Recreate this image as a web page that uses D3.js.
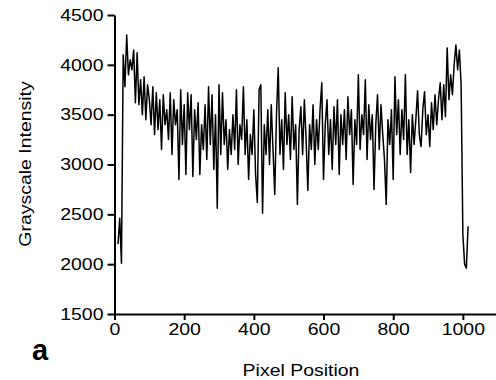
<!DOCTYPE html>
<html>
<head>
<meta charset="utf-8">
<script src="https://cdn.jsdelivr.net/npm/d3@7"></script>
<style>
  body { margin: 0; background: #fff; }
  text { font-family: "Liberation Sans", Arial, sans-serif; fill: #000; }
  .stretch { transform-box: fill-box; transform: scaleX(1.18); }
</style>
</head>
<body>
<div id="chart"></div>
<script>
// pixel positions start at 10 and go up in steps of 5
var pixelStart = 10, pixelStep = 5;
var intensity = [
  2200, 2460, 2010, 4100, 3780, 4300, 3900, 4050, 3950, 4150,
  3620, 4120, 3600, 3850, 3500, 3880, 3450, 3800, 3650, 3400,
  3780, 3300, 3720, 3350, 3650, 3150, 3700, 3400, 3550, 3250,
  3720, 3100, 3650, 3400, 3550, 2850, 3750, 3200, 3600, 2900,
  3720, 3350, 3700, 2880, 3550, 3250, 3620, 2900, 3400, 3150,
  3600, 3050, 3780, 3200, 3700, 2950, 3500, 2560, 3800, 3100,
  3720, 3200, 3450, 2950, 3350, 3100, 3500, 3150, 3750, 3000,
  3400, 3250, 3780, 3100, 3450, 2850, 3300, 3100, 3550, 2900,
  2620, 3750, 3800, 2510, 3400, 3100, 3550, 3000, 3600, 3150,
  2700, 3500, 3970, 3100, 3450, 2950, 3720, 3200, 3500, 3050,
  3680, 3150, 3400, 2600, 3350, 3580, 3100, 3650, 3250, 2740,
  3400, 3150, 3600, 3000, 3450, 3150, 3550, 3820, 2850, 3400,
  3650, 3100, 3450, 2950, 3580, 3200, 3650, 2900, 3500, 3200,
  3550, 3050, 3680, 3300, 3550, 2800, 3450, 3200, 3900, 3150,
  3500, 3300, 3850, 3050, 3600, 3250, 3500, 2750, 3400, 3700,
  3150, 3600, 3300, 3050, 2600, 3450, 3200, 3550, 2850, 3880,
  3300, 3650, 3100, 3550, 3250, 3900, 3100, 3450, 2920, 3500,
  3200, 3450, 3740, 3300, 3180, 3550, 3730, 3300, 3500, 3180,
  3620, 3350, 3700, 3400, 3650, 3820, 3450, 3800, 3480, 4170,
  3650, 3900, 3700, 4000, 4200, 3950, 4150, 3800, 2300, 2000,
  1960, 2380
];
var xTicks = [0, 200, 400, 600, 800, 1000];
var yTicks = [1500, 2000, 2500, 3000, 3500, 4000, 4500];

var width = 496, height = 380;
var svg = d3.select("#chart").append("svg")
  .attr("width", width)
  .attr("height", height);

var x = d3.scaleLinear().domain([0, 1100]).range([114.5, 497.7]);
var y = d3.scaleLinear().domain([1500, 4500]).range([314, 15]);

var points = intensity.map((v, i) => [pixelStart + i * pixelStep, v]);

// trace
svg.append("path")
  .datum(points)
  .attr("fill", "none")
  .attr("stroke", "#000")
  .attr("stroke-width", 1.5)
  .attr("stroke-linejoin", "round")
  .attr("d", d3.line().x(d => x(d[0])).y(d => y(d[1])));

// axes
var xAxis = svg.append("g")
  .attr("transform", "translate(0,314)")
  .call(d3.axisBottom(x).tickValues(xTicks).tickFormat(d3.format("d"))
    .tickSize(6).tickSizeOuter(0).tickPadding(3));
var yAxis = svg.append("g")
  .attr("transform", "translate(114.5,0)")
  .call(d3.axisLeft(y).tickValues(yTicks).tickFormat(d3.format("d"))
    .tickSize(7).tickSizeOuter(0).tickPadding(4));

[xAxis, yAxis].forEach(g => {
  g.select(".domain").attr("stroke", "#000").attr("stroke-width", 2);
  g.selectAll(".tick line").attr("stroke", "#000").attr("stroke-width", 2);
  g.selectAll(".tick text")
    .attr("font-size", 16.5)
    .attr("font-family", null)
    .attr("class", "stretch");
});
xAxis.selectAll(".tick text").style("transform-origin", "center");
yAxis.selectAll(".tick text").style("transform-origin", "right center");

// labels
svg.append("text")
  .attr("class", "stretch")
  .style("transform-origin", "center")
  .attr("x", 301).attr("y", 376)
  .attr("text-anchor", "middle")
  .attr("font-size", 16.5)
  .text("Pixel Position");

svg.append("g")
  .attr("transform", "translate(31,164) rotate(-90)")
  .append("text")
  .attr("class", "stretch")
  .style("transform-origin", "center")
  .attr("text-anchor", "middle")
  .attr("font-size", 16.5)
  .text("Grayscale Intensity");

svg.append("text")
  .attr("x", 32).attr("y", 360)
  .attr("font-size", 29)
  .attr("font-weight", "bold")
  .text("a");
</script>
</body>
</html>
